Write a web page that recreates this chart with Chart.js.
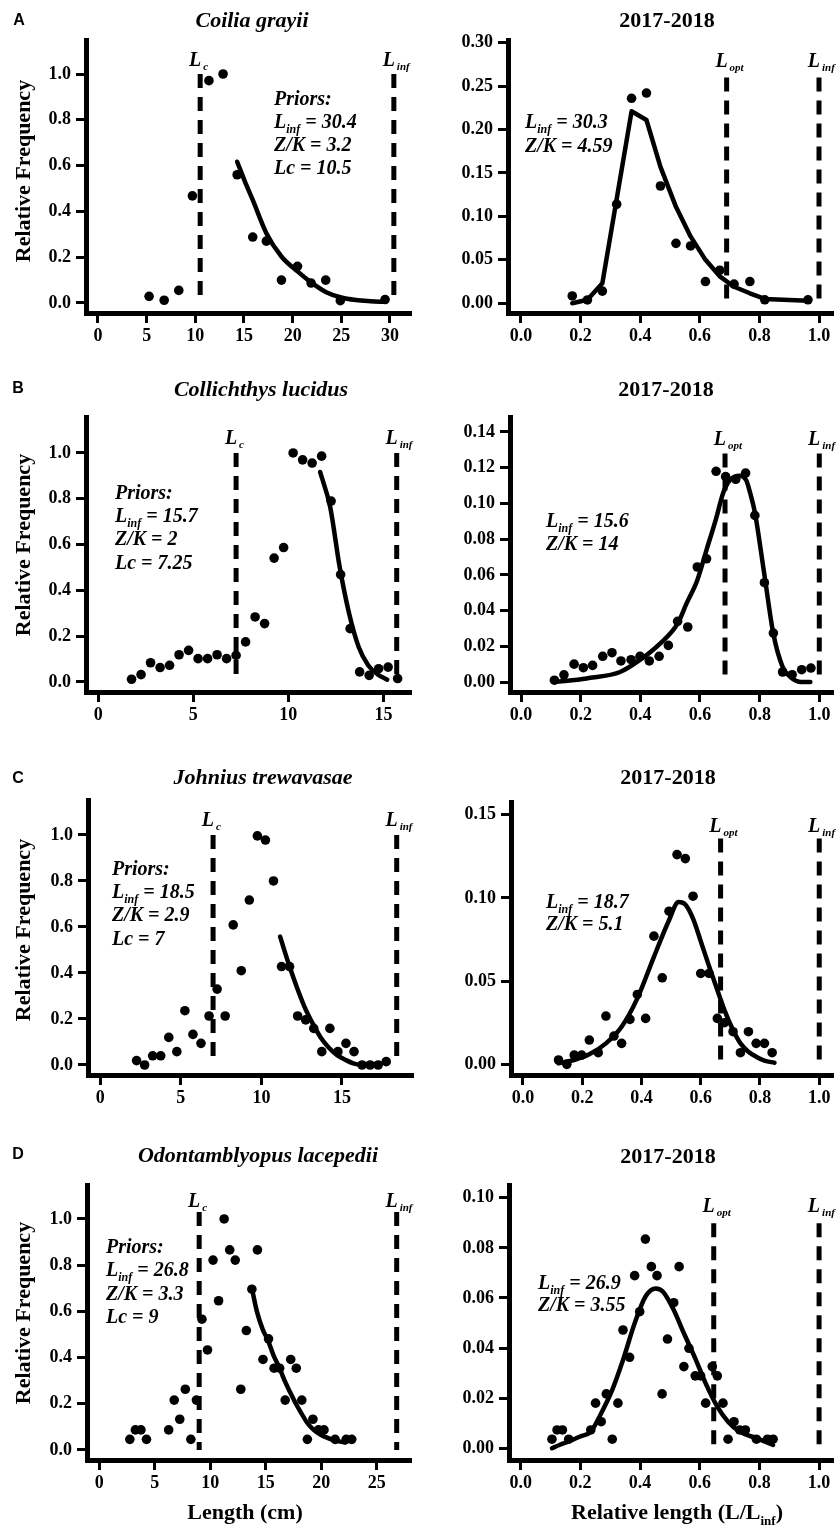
<!DOCTYPE html>
<html><head><meta charset="utf-8">
<script src="https://cdn.jsdelivr.net/npm/chart.js@4.4.0/dist/chart.umd.min.js"></script>
<style>
html,body{margin:0;padding:0;background:#fff;}
body{width:837px;height:1526px;position:relative;overflow:hidden;font-family:"Liberation Serif",serif;color:#000;}
canvas{position:absolute;}
.t{position:absolute;white-space:nowrap;line-height:1;z-index:5;}
.c{transform:translate(-50%,-50%);}
.l{transform:translate(0,-50%);}
.title{font:italic bold 22px "Liberation Serif";}
.year{font:bold 22px "Liberation Serif";}
.lab{font:bold 16px "Liberation Sans";}
.yt{font:bold 22px "Liberation Serif";transform:translate(-50%,-50%) rotate(-90deg);}
.xt{font:bold 22px "Liberation Serif";}
.pr{font:italic bold 20px "Liberation Serif";}
.sb{font-size:12px;position:relative;top:5px;}
.sb2{font-size:13px;position:relative;top:6px;}
</style></head><body>
<script>
// ---------- tick labels ----------
const freqTicks = [0, 0.2, 0.4, 0.6, 0.8, 1.0];
const relTicks = [0, 0.2, 0.4, 0.6, 0.8, 1.0];
const aLenTicks = [0, 5, 10, 15, 20, 25, 30];
const bLenTicks = [0, 5, 10, 15];
const cLenTicks = [0, 5, 10, 15];
const dLenTicks = [0, 5, 10, 15, 20, 25];
const aRelFreqTicks = [0, 0.05, 0.10, 0.15, 0.20, 0.25, 0.30];
const bRelFreqTicks = [0, 0.02, 0.04, 0.06, 0.08, 0.10, 0.12, 0.14];
const cRelFreqTicks = [0, 0.05, 0.10, 0.15];
const dRelFreqTicks = [0, 0.02, 0.04, 0.06, 0.08, 0.10];

// ---------- A: Coilia grayii ----------
const aLen = [5.25, 6.8, 8.3, 9.7, 11.4, 12.85, 14.3, 15.9, 17.3, 18.85, 20.5, 21.9, 23.4, 24.9, 29.5];
const aFreq = [0.029, 0.012, 0.055, 0.468, 0.971, 1.0, 0.56, 0.288, 0.27, 0.10, 0.16, 0.087, 0.10, 0.01, 0.015];
const aFitLen = [14.3, 15.1, 15.9, 17.3, 18.85, 20.5, 21.9, 23.4, 24.9, 26.5, 28.0, 29.5];
const aFitFreq = [0.617, 0.53, 0.45, 0.305, 0.203, 0.138, 0.09, 0.048, 0.025, 0.013, 0.008, 0.005];
const aRel = [0.172, 0.223, 0.273, 0.321, 0.371, 0.421, 0.468, 0.520, 0.569, 0.619, 0.667, 0.715, 0.768, 0.818, 0.963];
const aRelFreq = [0.0084, 0.0038, 0.014, 0.114, 0.236, 0.242, 0.135, 0.069, 0.066, 0.025, 0.038, 0.022, 0.025, 0.004, 0.004];
const aRelFitX = [0.172, 0.223, 0.273, 0.371, 0.421, 0.468, 0.520, 0.569, 0.619, 0.667, 0.715, 0.768, 0.818, 0.963];
const aRelFitY = [0.0, 0.004, 0.023, 0.221, 0.211, 0.157, 0.111, 0.077, 0.050, 0.031, 0.019, 0.0115, 0.005, 0.003];
const aLc = 10.5, aLinf = 30.4, aLopt = 0.69;

// ---------- B: Collichthys lucidus ----------
const bLen = [1.75, 2.25, 2.75, 3.25, 3.75, 4.25, 4.75, 5.25, 5.75, 6.25, 6.75, 7.25, 7.75, 8.25, 8.75, 9.25, 9.75, 10.25, 10.75, 11.25, 11.75, 12.25, 12.75, 13.25, 13.75, 14.25, 14.75, 15.25, 15.75];
const bFreq = [0.012, 0.032, 0.084, 0.063, 0.073, 0.119, 0.138, 0.102, 0.102, 0.119, 0.102, 0.116, 0.175, 0.284, 0.255, 0.541, 0.587, 1.0, 0.97, 0.956, 0.986, 0.79, 0.469, 0.233, 0.044, 0.029, 0.058, 0.065, 0.015];
const bFitLen = [11.67, 12.2, 12.7, 13.2, 13.7, 14.2, 14.7, 15.2];
const bFitFreq = [0.917, 0.764, 0.502, 0.298, 0.153, 0.073, 0.033, 0.010];
const bRel = [0.112, 0.144, 0.178, 0.209, 0.240, 0.274, 0.305, 0.335, 0.369, 0.399, 0.430, 0.463, 0.494, 0.525, 0.559, 0.591, 0.622, 0.654, 0.686, 0.720, 0.753, 0.784, 0.816, 0.846, 0.877, 0.909, 0.941, 0.972];
const bRelFreq = [0.001, 0.004, 0.010, 0.008, 0.0093, 0.0144, 0.0164, 0.0118, 0.0125, 0.0144, 0.0118, 0.0144, 0.0205, 0.034, 0.0308, 0.0644, 0.069, 0.118, 0.115, 0.1135, 0.117, 0.0933, 0.0556, 0.0274, 0.0056, 0.0041, 0.0069, 0.0078];
const bRelFitX = [0.112, 0.22, 0.332, 0.40, 0.466, 0.525, 0.555, 0.591, 0.622, 0.654, 0.678, 0.70, 0.734, 0.755, 0.768, 0.784, 0.816, 0.846, 0.877, 0.905, 0.94, 0.97];
const bRelFitY = [0.000, 0.002, 0.0056, 0.0125, 0.0215, 0.0327, 0.044, 0.057, 0.074, 0.0915, 0.106, 0.113, 0.1155, 0.113, 0.106, 0.095, 0.060, 0.027, 0.0085, 0.0025, 0.000, 0.000];
const bLc = 7.25, bLinf = 15.7, bLopt = 0.684;

// ---------- C: Johnius trewavasae ----------
const cLen = [2.25, 2.75, 3.25, 3.75, 4.25, 4.75, 5.25, 5.75, 6.25, 6.75, 7.25, 7.75, 8.25, 8.75, 9.25, 9.75, 10.25, 10.75, 11.25, 11.75, 12.25, 12.75, 13.25, 13.75, 14.25, 14.75, 15.25, 15.75, 16.25, 16.75, 17.25, 17.75];
const cFreq = [0.019, 0.0, 0.04, 0.04, 0.12, 0.058, 0.236, 0.133, 0.094, 0.213, 0.33, 0.213, 0.609, 0.41, 0.717, 0.996, 0.978, 0.80, 0.428, 0.428, 0.213, 0.196, 0.159, 0.058, 0.159, 0.058, 0.094, 0.058, 0.0, 0.0, 0.0, 0.0145];
const cFitLen = [11.16, 11.74, 12.19, 12.67, 13.18, 13.68, 14.19, 14.7, 15.23, 15.7, 16.18, 16.69, 17.2];
const cFitFreq = [0.558, 0.43, 0.34, 0.254, 0.181, 0.12, 0.075, 0.043, 0.022, 0.007, 0.001, 0.001, 0.004];
const cRel = [0.120, 0.148, 0.173, 0.198, 0.224, 0.254, 0.280, 0.307, 0.333, 0.361, 0.386, 0.414, 0.442, 0.470, 0.493, 0.520, 0.548, 0.574, 0.600, 0.628, 0.656, 0.680, 0.709, 0.734, 0.761, 0.787, 0.815, 0.841];
const cRelFreq = [0.0026, 0.0, 0.0056, 0.0056, 0.0146, 0.007, 0.029, 0.017, 0.0126, 0.027, 0.042, 0.0276, 0.077, 0.052, 0.092, 0.126, 0.1236, 0.101, 0.0546, 0.0546, 0.0276, 0.025, 0.0196, 0.007, 0.0196, 0.0126, 0.0126, 0.007];
const cRelFitX = [0.12, 0.173, 0.224, 0.28, 0.333, 0.386, 0.442, 0.493, 0.525, 0.548, 0.574, 0.60, 0.628, 0.656, 0.68, 0.709, 0.734, 0.761, 0.787, 0.815, 0.849];
const cRelFitY = [0.0006, 0.0026, 0.006, 0.0126, 0.0226, 0.0396, 0.0646, 0.0866, 0.0975, 0.096, 0.0875, 0.074, 0.059, 0.0446, 0.0326, 0.0206, 0.0126, 0.0076, 0.0046, 0.0022, 0.001];
const cLc = 7.0, cLinf = 18.4, cLopt = 0.667;

// ---------- D: Odontamblyopus lacepedii ----------
const dLen = [2.75, 3.25, 3.75, 4.25, 6.25, 6.75, 7.25, 7.75, 8.25, 8.75, 9.25, 9.75, 10.25, 10.75, 11.25, 11.75, 12.25, 12.75, 13.25, 13.75, 14.25, 14.75, 15.25, 15.75, 16.25, 16.75, 17.25, 17.75, 18.25, 18.75, 19.25, 19.75, 20.25, 21.25, 22.25, 22.75];
const dFreq = [0.046, 0.087, 0.087, 0.046, 0.087, 0.216, 0.133, 0.263, 0.046, 0.216, 0.566, 0.433, 0.822, 0.646, 1.0, 0.866, 0.822, 0.263, 0.517, 0.696, 0.866, 0.392, 0.481, 0.354, 0.354, 0.216, 0.392, 0.354, 0.216, 0.046, 0.133, 0.087, 0.087, 0.046, 0.046, 0.046];
const dFitLen = [13.75, 14.2, 14.74, 15.2, 15.7, 16.25, 16.7, 17.2, 17.72, 18.2, 18.7, 19.25, 19.76, 20.2, 21.2, 22.16];
const dFitFreq = [0.70, 0.60, 0.52, 0.475, 0.41, 0.354, 0.30, 0.25, 0.20, 0.16, 0.12, 0.09, 0.072, 0.06, 0.042, 0.032];
const dRel = [0.105, 0.122, 0.140, 0.161, 0.235, 0.251, 0.270, 0.287, 0.307, 0.326, 0.343, 0.365, 0.382, 0.399, 0.418, 0.438, 0.457, 0.474, 0.492, 0.513, 0.531, 0.547, 0.564, 0.585, 0.603, 0.620, 0.642, 0.659, 0.678, 0.695, 0.715, 0.734, 0.753, 0.790, 0.827, 0.846];
const dRelFreq = [0.0036, 0.0073, 0.0073, 0.0036, 0.0073, 0.018, 0.0106, 0.0217, 0.0036, 0.018, 0.0472, 0.0363, 0.0689, 0.0545, 0.0835, 0.0725, 0.0689, 0.0217, 0.0436, 0.0581, 0.0725, 0.0326, 0.0399, 0.0289, 0.0289, 0.018, 0.0326, 0.0289, 0.018, 0.0036, 0.0106, 0.0073, 0.0073, 0.0036, 0.0036, 0.0036];
const dRelFitX = [0.105, 0.13, 0.161, 0.20, 0.235, 0.27, 0.307, 0.343, 0.382, 0.418, 0.453, 0.477, 0.513, 0.547, 0.585, 0.62, 0.659, 0.695, 0.734, 0.79, 0.846];
const dRelFitY = [0.0, 0.0013, 0.0027, 0.0047, 0.0066, 0.014, 0.0233, 0.0352, 0.0499, 0.0605, 0.0638, 0.0625, 0.0552, 0.0459, 0.0359, 0.0259, 0.0166, 0.0106, 0.0066, 0.004, 0.0013];
const dLc = 9.0, dLinf = 26.8, dLopt = 0.647;

// ---------- panels (layout: chart-area pixels & axis ranges) ----------
const panels = [
  {x:aLen, y:aFreq, fx:aFitLen, fy:aFitFreq, xt:aLenTicks, yt:freqTicks, xd:0, yd:1, smooth:true,
   vl:[{x:aLc, top:1.0, ly:1.034, sub:'c'}, {x:aLinf, top:1.0, ly:1.034, sub:'inf'}],
   area:[86, 40, 410, 313], cx:20, cr:418, xr:[-1.233, 32.06], yr:[-0.0437, 1.1485]},
  {x:aRel, y:aRelFreq, fx:aRelFitX, fy:aRelFitY, xt:relTicks, yt:aRelFreqTicks, xd:1, yd:2, smooth:false,
   vl:[{x:aLopt, top:0.26, ly:0.272, sub:'opt'}, {x:1.0, top:0.26, ly:0.272, sub:'inf'}],
   area:[508, 40, 832, 313], cx:430, cr:837, xr:[-0.0436, 1.0436], yr:[-0.0112, 0.3031]},
  {x:bLen, y:bFreq, fx:bFitLen, fy:bFitFreq, xt:bLenTicks, yt:freqTicks, xd:0, yd:1, smooth:true,
   vl:[{x:bLc, top:1.0, ly:1.041, sub:'c'}, {x:bLinf, top:1.0, ly:1.041, sub:'inf'}],
   area:[86, 417, 410, 692], cx:20, cr:418, xr:[-0.647, 16.4], yr:[-0.0437, 1.157]},
  {x:bRel, y:bRelFreq, fx:bRelFitX, fy:bRelFitY, xt:relTicks, yt:bRelFreqTicks, xd:1, yd:2, smooth:true,
   vl:[{x:bLopt, top:0.128, ly:0.133, sub:'opt'}, {x:1.0, top:0.128, ly:0.133, sub:'inf'}],
   area:[510, 417, 832, 692], cx:430, cr:837, xr:[-0.0369, 1.0426], yr:[-0.0056, 0.1484]},
  {x:cLen, y:cFreq, fx:cFitLen, fy:cFitFreq, xt:cLenTicks, yt:freqTicks, xd:0, yd:1, smooth:true,
   vl:[{x:cLc, top:1.0, ly:1.039, sub:'c'}, {x:cLinf, top:1.0, ly:1.039, sub:'inf'}],
   area:[88, 800, 412, 1075], cx:20, cr:418, xr:[-0.766, 19.35], yr:[-0.0435, 1.152]},
  {x:cRel, y:cRelFreq, fx:cRelFitX, fy:cRelFitY, xt:relTicks, yt:cRelFreqTicks, xd:1, yd:2, smooth:true,
   vl:[{x:cLopt, top:0.1356, ly:0.1396, sub:'opt'}, {x:1.0, top:0.1356, ly:0.1396, sub:'inf'}],
   area:[511, 802, 833, 1075], cx:430, cr:837, xr:[-0.0404, 1.0437], yr:[-0.0064, 0.1576]},
  {x:dLen, y:dFreq, fx:dFitLen, fy:dFitFreq, xt:dLenTicks, yt:freqTicks, xd:0, yd:1, smooth:true,
   vl:[{x:dLc, top:1.03, ly:1.05, sub:'c'}, {x:dLinf, top:1.03, ly:1.05, sub:'inf'}],
   area:[87, 1185, 410, 1460], cx:20, cr:418, xr:[-1.11, 28.0], yr:[-0.0433, 1.147]},
  {x:dRel, y:dRelFreq, fx:dRelFitX, fy:dRelFitY, xt:relTicks, yt:dRelFreqTicks, xd:1, yd:2, smooth:true,
   vl:[{x:dLopt, top:0.0898, ly:0.0944, sub:'opt'}, {x:1.0, top:0.0898, ly:0.0944, sub:'inf'}],
   area:[509, 1185, 832, 1460], cx:430, cr:837, xr:[-0.039, 1.0433], yr:[-0.0047, 0.1051]}
];

const SERIF = '"Liberation Serif", "Times New Roman", serif';
const tickFont = {family: SERIF, size: 18, weight: 'bold'};
const PADT = 30, XAH = 44;

function buildPanel(p, idx) {
  const top = p.area[1] - PADT;
  const W = p.cr - p.cx, H = p.area[3] + XAH - top;
  const cv = document.createElement('canvas');
  cv.width = W; cv.height = H;
  cv.style.left = p.cx + 'px'; cv.style.top = top + 'px';
  cv.style.width = W + 'px'; cv.style.height = H + 'px';
  document.body.appendChild(cv);
  const pts = p.x.map((v, i) => ({x: v, y: p.y[i]}));
  const fit = p.fx.map((v, i) => ({x: v, y: p.fy[i]}));
  const vplug = {
    id: 'vlines' + idx,
    beforeDatasetsDraw(chart) {
      const {ctx, scales: {x, y}} = chart;
      ctx.save();
      ctx.strokeStyle = '#000'; ctx.lineWidth = 5; ctx.setLineDash([14, 9]);
      p.vl.forEach(l => {
        const px = x.getPixelForValue(l.x);
        ctx.beginPath();
        ctx.moveTo(px, y.getPixelForValue(l.top));
        ctx.lineTo(px, y.getPixelForValue(0));
        ctx.stroke();
      });
      ctx.setLineDash([]);
      ctx.fillStyle = '#000';
      p.vl.forEach(l => {
        const px = x.getPixelForValue(l.x), py = y.getPixelForValue(l.ly);
        ctx.font = 'italic bold 20px ' + SERIF;
        ctx.textAlign = 'right'; ctx.textBaseline = 'alphabetic';
        ctx.fillText('L', px + 1, py);
        ctx.font = 'italic bold 11px ' + SERIF;
        ctx.textAlign = 'left';
        ctx.fillText(l.sub, px + 3, py + 4);
      });
      ctx.restore();
    }
  };
  new Chart(cv.getContext('2d'), {
    type: 'scatter',
    data: {datasets: [
      {type: 'line', data: fit, borderColor: '#000', borderWidth: 4.5, pointRadius: 0, fill: false,
       tension: p.smooth ? 0.4 : 0, cubicInterpolationMode: p.smooth ? 'monotone' : 'default',
       order: 2, clip: false, borderCapStyle: 'round', borderJoinStyle: 'round'},
      {type: 'scatter', data: pts, pointRadius: 4.8, pointHoverRadius: 4.8,
       backgroundColor: '#000', borderColor: '#000', borderWidth: 0, order: 1, clip: false}
    ]},
    options: {
      responsive: false, animation: false, events: [],
      layout: {padding: {left: 0, top: PADT, right: p.cr - p.area[2], bottom: 0}},
      plugins: {legend: {display: false}, tooltip: {enabled: false}},
      scales: {
        x: {type: 'linear', position: 'bottom', min: p.xr[0], max: p.xr[1],
          afterBuildTicks(s) { s.ticks = p.xt.map(v => ({value: v})); },
          afterFit(s) { s.height = XAH; s.paddingLeft = 0; s.paddingRight = 0; },
          ticks: {font: tickFont, color: '#000', padding: 3, autoSkip: false, maxRotation: 0,
            callback: v => Number(v).toFixed(p.xd)},
          grid: {display: true, drawOnChartArea: false, drawTicks: true, tickLength: 10, lineWidth: 3, color: '#000'},
          border: {display: true, width: 5, color: '#000'}},
        y: {type: 'linear', position: 'left', min: p.yr[0], max: p.yr[1],
          afterBuildTicks(s) { s.ticks = p.yt.map(v => ({value: v})); },
          afterFit(s) { s.width = p.area[0] - p.cx; s.paddingTop = 0; s.paddingBottom = 0; },
          ticks: {font: tickFont, color: '#000', padding: 5, autoSkip: false,
            callback: v => Number(v).toFixed(p.yd)},
          grid: {display: true, drawOnChartArea: false, drawTicks: true, tickLength: 10, lineWidth: 3, color: '#000'},
          border: {display: true, width: 5, color: '#000'}}
      }
    },
    plugins: [vplug]
  });
}
panels.forEach(buildPanel);

// ---------- text ----------
function T(html, x, y, cls, anchor) {
  const d = document.createElement('div');
  d.className = 't ' + cls + ' ' + (anchor || 'c');
  d.style.left = x + 'px'; d.style.top = y + 'px';
  d.innerHTML = html;
  document.body.appendChild(d);
}
const LI = 'L<span class="sb">inf</span>';
// panel letters
T('A', 19, 20, 'lab'); T('B', 18, 388, 'lab'); T('C', 18, 778, 'lab'); T('D', 18, 1154, 'lab');
// titles
T('Coilia grayii', 252, 20, 'title'); T('2017-2018', 667, 20, 'year');
T('Collichthys lucidus', 261, 389, 'title'); T('2017-2018', 666, 389, 'year');
T('Johnius trewavasae', 263, 777, 'title'); T('2017-2018', 668, 777, 'year');
T('Odontamblyopus lacepedii', 258, 1155, 'title'); T('2017-2018', 668, 1156, 'year');
// y axis titles
[171, 545, 930, 1313].forEach(y => T('Relative Frequency', 23, y, 'yt', ' '));
// x axis titles
T('Length (cm)', 245, 1512, 'xt');
T('Relative length (L/L<span class="sb2">inf</span>)', 677, 1512, 'xt');
// priors / estimates
function block(lines, x, ys) { lines.forEach((s, i) => T(s, x, ys[i], 'pr', 'l')); }
block(['Priors:', LI + ' = 30.4', 'Z/K = 3.2', 'Lc = 10.5'], 274, [98, 121, 144, 167]);
block([LI + ' = 30.3', 'Z/K = 4.59'], 525, [121, 145]);
block(['Priors:', LI + ' = 15.7', 'Z/K = 2', 'Lc = 7.25'], 115, [492, 515, 538, 562]);
block([LI + ' = 15.6', 'Z/K = 14'], 546, [520, 543]);
block(['Priors:', LI + ' = 18.5', 'Z/K = 2.9', 'Lc = 7'], 112, [868, 891, 914, 938]);
block([LI + ' = 18.7', 'Z/K = 5.1'], 546, [901, 923]);
block(['Priors:', LI + ' = 26.8', 'Z/K = 3.3', 'Lc = 9'], 106, [1246, 1269, 1293, 1316]);
block([LI + ' = 26.9', 'Z/K = 3.55'], 538, [1282, 1304]);
</script>
</body></html>
